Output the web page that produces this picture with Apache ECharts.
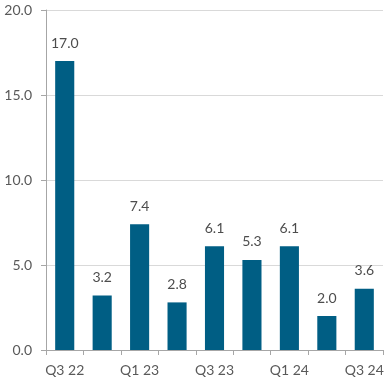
<!DOCTYPE html>
<html><head><meta charset="utf-8">
<script src="https://cdn.jsdelivr.net/npm/echarts@6/dist/echarts.min.js"></script>
<style>html,body{margin:0;padding:0;background:#fff}#c{width:391px;height:384px}</style>
</head><body><div id="c"></div>
<script>
const categories = ['Q3 22','Q4 22','Q1 23','Q2 23','Q3 23','Q4 23','Q1 24','Q2 24','Q3 24'];
const values = [17.0, 3.2, 7.4, 2.8, 6.1, 5.3, 6.1, 2.0, 3.6];
const yTicks = [0, 5, 10, 15, 20];

const chart = echarts.init(document.getElementById('c'), null, {renderer:'canvas'});
chart.setOption({
  animation: false,
  textStyle: {fontFamily: 'Lato'},
  grid: {left: 46, right: 8, top: 10, bottom: 34},
  xAxis: {
    type: 'category',
    data: categories,
    axisLine: {lineStyle: {color: '#a6a6a6'}},
    axisTick: {show: true, interval: 0, length: 5, lineStyle: {color: '#a6a6a6'}},
    axisLabel: {interval: 1, margin: 13, color: '#595959', fontSize: 14, fontFamily: 'Lato'}
  },
  yAxis: {
    type: 'value',
    min: yTicks[0], max: yTicks[yTicks.length-1], interval: 5,
    axisLine: {show: true, lineStyle: {color: '#a6a6a6'}},
    axisTick: {show: true, length: 5, lineStyle: {color: '#a6a6a6'}},
    splitLine: {lineStyle: {color: '#d9d9d9'}},
    axisLabel: {margin: 14, color: '#595959', fontSize: 14, fontFamily: 'Lato', formatter: v => v.toFixed(1)}
  },
  series: [{
    type: 'bar',
    data: values,
    barWidth: '51%',
    itemStyle: {color: '#005e84'},
    label: {show: true, position: 'top', distance: 11, color: '#4d4d4d', fontSize: 14, fontFamily: 'Lato', formatter: p => p.value.toFixed(1)}
  }]
});
</script></body></html>
